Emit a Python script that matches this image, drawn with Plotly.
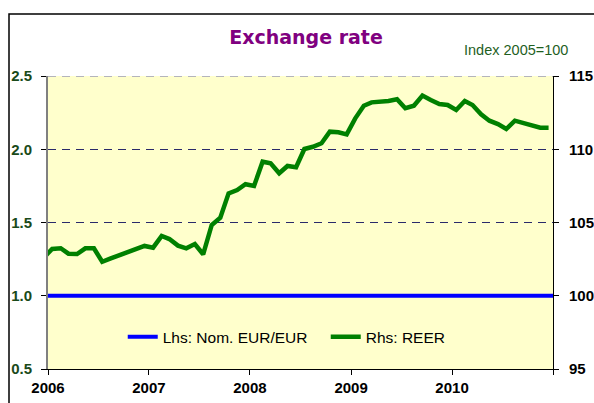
import plotly.graph_objects as go

# ---- data ----
months = ["2005-12"] + [f"{y}-{m:02d}" for y in range(2006, 2011) for m in range(1, 13)]
reer = [102.6,
        103.19, 103.24, 102.87, 102.85, 103.24, 103.24, 102.32, 102.55, 102.78, 102.98, 103.20, 103.40,
        103.28, 104.08, 103.87, 103.42, 103.24, 103.53, 102.83, 104.83, 105.33, 106.99, 107.22, 107.61,
        107.49, 109.15, 109.04, 108.36, 108.86, 108.77, 110.02, 110.17, 110.41, 111.20, 111.16, 111.02,
        112.11, 112.97, 113.20, 113.22, 113.30, 113.41, 112.80, 112.97, 113.66, 113.36, 113.09, 113.02,
        112.68, 113.29, 113.02, 112.39, 111.95, 111.72, 111.38, 111.95, 111.77, 111.66, 111.47, 111.47]
nom_months = months + ["2011-01"]
nom_eur = [1.0] * len(nom_months)

year_ticks = ["2006-01-01", "2007-01-01", "2008-01-01", "2009-01-01", "2010-01-01", "2011-01-01"]
year_labels = ["2006", "2007", "2008", "2009", "2010", ""]
left_ticks = [0.5, 1.0, 1.5, 2.0, 2.5]
right_ticks = [95, 100, 105, 110, 115]

mid = lambda ms: [m + "-16" for m in ms]

fig = go.Figure()
fig.add_trace(go.Scatter(x=mid(nom_months), y=nom_eur, mode="lines", name="Lhs: Nom. EUR/EUR",
                         line=dict(color="#0000FF", width=4), yaxis="y"))
fig.add_trace(go.Scatter(x=mid(months), y=reer, mode="lines", name="Rhs: REER",
                         line=dict(color="#008000", width=4.5), yaxis="y2"))

tickfont_bold = dict(family="Liberation Sans, Arial, sans-serif", size=15, color="black", weight="bold")

fig.update_layout(
    width=594, height=403,
    margin=dict(l=48, r=41, t=76, b=34),
    paper_bgcolor="white", plot_bgcolor="#FFFFCC",
    showlegend=True,
    title=dict(text="<b>Exchange rate</b>", x=306/594, xanchor="center", y=1-37/403, yanchor="middle",
               font=dict(family="DejaVu Sans, Verdana, sans-serif", size=19, color="#800080")),
    legend=dict(orientation="h", x=0.148, y=0.109, xanchor="left", yanchor="middle", entrywidth=158,
                bgcolor="rgba(0,0,0,0)", font=dict(family="Liberation Sans, Arial, sans-serif", size=15.5, color="black")),
    xaxis=dict(type="date", range=["2006-01-01", "2011-01-01"], tickmode="array", automargin=False,
               tickvals=year_ticks, ticktext=year_labels, showgrid=False,
               showline=True, linecolor="black", linewidth=1,
               ticks="outside", ticklen=5, tickcolor="black", tickfont=tickfont_bold),
    yaxis=dict(range=[0.5, 2.5], tickmode="array", tickvals=left_ticks, tickformat=".1f", automargin=False,
               showgrid=True, gridcolor="#2a2a6a", griddash="8px,6px", gridwidth=1,
               zeroline=False, showline=True, linecolor="#808080", linewidth=2,
               ticks="outside", ticklen=5, tickcolor="black", ticklabelstandoff=6,
               tickfont=dict(family="Liberation Sans, Arial, sans-serif", size=15, color="#1a4a1a", weight="bold")),
    yaxis2=dict(range=[95, 115], tickmode="array", tickvals=right_ticks, overlaying="y", side="right",
                automargin=False,
                showgrid=False, zeroline=False, showline=True, linecolor="black", linewidth=1,
                ticks="outside", ticklen=5, tickcolor="black", ticklabelstandoff=7, tickfont=tickfont_bold),
    annotations=[dict(text="Index 2005=100", xref="paper", yref="paper", x=(570-48)/505, y=(369-50)/293,
                      xanchor="right", yanchor="middle", showarrow=False,
                      font=dict(family="Liberation Sans, Arial, sans-serif", size=14.5, color="#1F5F1F"))],
    shapes=[dict(type="rect", xref="paper", yref="paper", x0=(9-48)/505, x1=(640-48)/505,
                 y0=(369-440)/293, y1=(369-14)/293, line=dict(color="black", width=1.5),
                 fillcolor="rgba(0,0,0,0)", layer="above"),
            dict(type="line", xref="paper", yref="y", x0=0, x1=1, y0=2.5, y1=2.5,
                 line=dict(color="#6a6aaa", width=1, dash="8px,6px"), layer="above")],
)

fig.write_html("out.html", config={"displayModeBar": False},
               post_script="document.body.style.margin='0';document.body.style.overflow='hidden';")
